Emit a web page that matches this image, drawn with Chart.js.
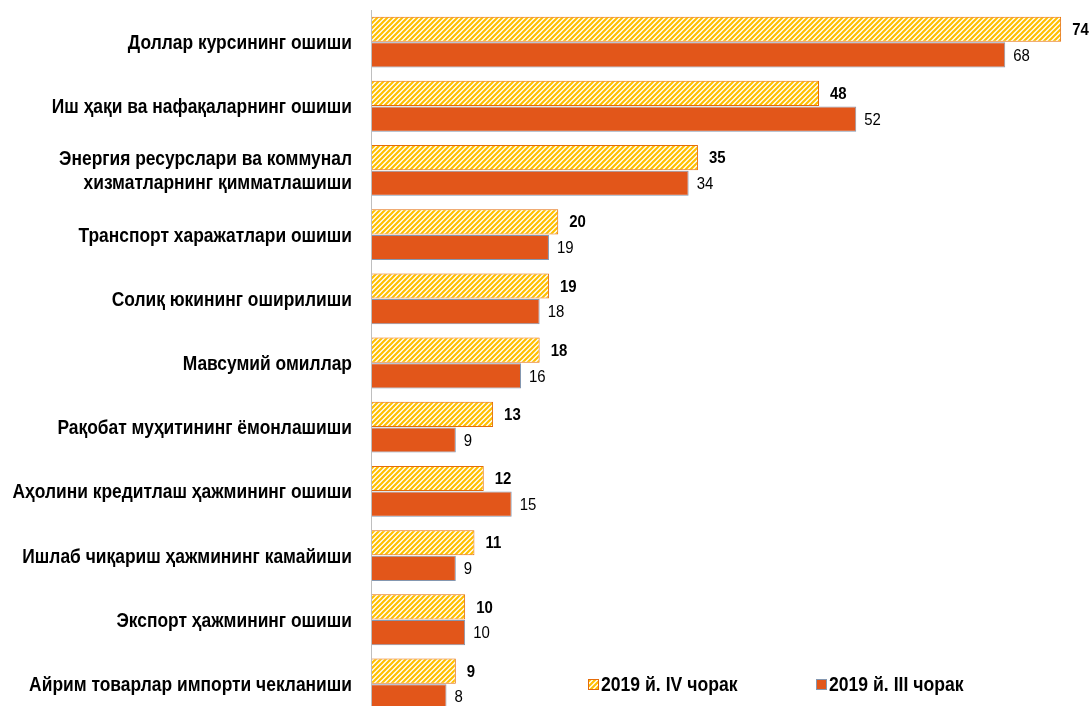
<!DOCTYPE html>
<html>
<head>
<meta charset="utf-8">
<script src="https://cdn.jsdelivr.net/npm/chart.js@4/dist/chart.umd.min.js"></script>
<style>
  html, body { margin: 0; padding: 0; background: #fff; overflow: hidden; }
  #wrap { position: absolute; left: 0; top: 0; width: 1090px; height: 716px; }
</style>
</head>
<body>
<div id="wrap"><canvas id="chart" width="1090" height="716"></canvas></div>
<script>
// categories, top to bottom
const categories = [
  "Доллар курсининг ошиши",
  "Иш ҳақи ва нафақаларнинг ошиши",
  ["Энергия ресурслари ва коммунал", "хизматларнинг қимматлашиши"],
  "Транспорт харажатлари ошиши",
  "Солиқ юкининг оширилиши",
  "Мавсумий омиллар",
  "Рақобат муҳитининг ёмонлашиши",
  "Аҳолини кредитлаш ҳажмининг ошиши",
  "Ишлаб чиқариш ҳажмининг камайиши",
  "Экспорт ҳажмининг ошиши",
  "Айрим товарлар импорти чекланиши"
];
const q4Values = [74, 48, 35, 20, 19, 18, 13, 12, 11, 10, 9];
const q3Values = [68, 52, 34, 19, 18, 16, 9, 15, 9, 10, 8];
const seriesNames = ["2019 й. IV чорак", "2019 й. III чорак"];

const FONT = "'Liberation Sans', Arial, sans-serif";
const SOLID = "#E2561A";
const SQUEEZE = 0.88; // the original text is narrow

// diagonal yellow hatch
function makeHatch() {
  const c = document.createElement("canvas");
  c.width = 5; c.height = 5;
  const g = c.getContext("2d");
  g.fillStyle = "#ffffff";
  g.fillRect(0, 0, 5, 5);
  g.strokeStyle = "#FFC000";
  g.lineWidth = 2.2;
  g.beginPath();
  g.moveTo(-1, 6); g.lineTo(6, -1);
  g.moveTo(-1, 1); g.lineTo(1, -1);
  g.moveTo(4, 6); g.lineTo(6, 4);
  g.stroke();
  return g.createPattern(c, "repeat");
}
const hatch = makeHatch();

function narrowText(ctx, text, x, y, align) {
  ctx.save();
  ctx.translate(x, y);
  ctx.scale(SQUEEZE, 1);
  ctx.textAlign = align;
  ctx.fillText(text, 0, 0);
  ctx.restore();
}

// value labels at bar ends
const valueLabels = {
  id: "valueLabels",
  afterDatasetsDraw(chart) {
    const ctx = chart.ctx;
    ctx.save();
    ctx.textBaseline = "middle";
    ctx.fillStyle = "#000";
    chart.data.datasets.forEach((ds, di) => {
      const meta = chart.getDatasetMeta(di);
      ctx.font = (di === 0 ? "bold " : "") + "17px " + FONT;
      meta.data.forEach((bar, i) => {
        narrowText(ctx, String(ds.data[i]), bar.x + (di === 0 ? 11 : 8), bar.y + 1, "left");
      });
    });
    ctx.restore();
  }
};

// category labels, axis line and legend
const extras = {
  id: "extras",
  afterDraw(chart) {
    const ctx = chart.ctx;
    const a = chart.chartArea;
    const yScale = chart.scales.y;
    ctx.save();
    ctx.fillStyle = "#000";
    ctx.font = "bold 19.8px " + FONT;
    ctx.textBaseline = "middle";
    categories.forEach((lab, i) => {
      const yc = yScale.getPixelForTick(i);
      const lines = Array.isArray(lab) ? lab : [lab];
      const lh = 24;
      lines.forEach((ln, k) => {
        const yy = yc + 1.5 + (k - (lines.length - 1) / 2) * lh;
        narrowText(ctx, ln, a.left - 20, yy, "right");
      });
    });

    ctx.strokeStyle = "#BFBFBF";
    ctx.lineWidth = 1;
    ctx.beginPath();
    ctx.moveTo(a.left - 0.5, 10);
    ctx.lineTo(a.left - 0.5, a.bottom);
    ctx.stroke();

    const items = [
      { x: 588, fill: hatch, border: "#E46C0A", text: seriesNames[0] },
      { x: 816, fill: SOLID, border: "#8497B0", text: seriesNames[1] }
    ];
    const y = 684;
    ctx.font = "bold 20px " + FONT;
    items.forEach(it => {
      ctx.fillStyle = it.fill;
      ctx.fillRect(it.x, y - 5, 10, 10);
      ctx.strokeStyle = it.border;
      ctx.strokeRect(it.x + 0.5, y - 4.5, 10, 10);
      ctx.fillStyle = "#000";
      narrowText(ctx, it.text, it.x + 13, y + 1, "left");
    });
    ctx.restore();
  }
};

new Chart(document.getElementById("chart"), {
  type: "bar",
  data: {
    labels: categories,
    datasets: [
      {
        label: seriesNames[0],
        data: q4Values,
        backgroundColor: hatch,
        borderColor: "#E46C0A",
        borderWidth: 1,
        categoryPercentage: 0.8,
        barPercentage: 0.98
      },
      {
        label: seriesNames[1],
        data: q3Values,
        backgroundColor: SOLID,
        borderColor: "#8497B0",
        borderWidth: 1,
        categoryPercentage: 0.8,
        barPercentage: 0.98
      }
    ]
  },
  options: {
    indexAxis: "y",
    responsive: false,
    animation: false,
    layout: { padding: { top: 10, right: 0, bottom: 0, left: 0 } },
    plugins: {
      legend: { display: false },
      tooltip: { enabled: false }
    },
    scales: {
      x: {
        display: false,
        min: 0,
        max: 77.1
      },
      y: {
        grid: { display: false, drawTicks: false },
        border: { display: false },
        ticks: { display: false },
        afterFit(scale) {
          scale.width = 372;
          scale.paddingTop = 0;
          scale.paddingBottom = 0;
        }
      }
    }
  },
  plugins: [valueLabels, extras]
});
</script>
</body>
</html>
